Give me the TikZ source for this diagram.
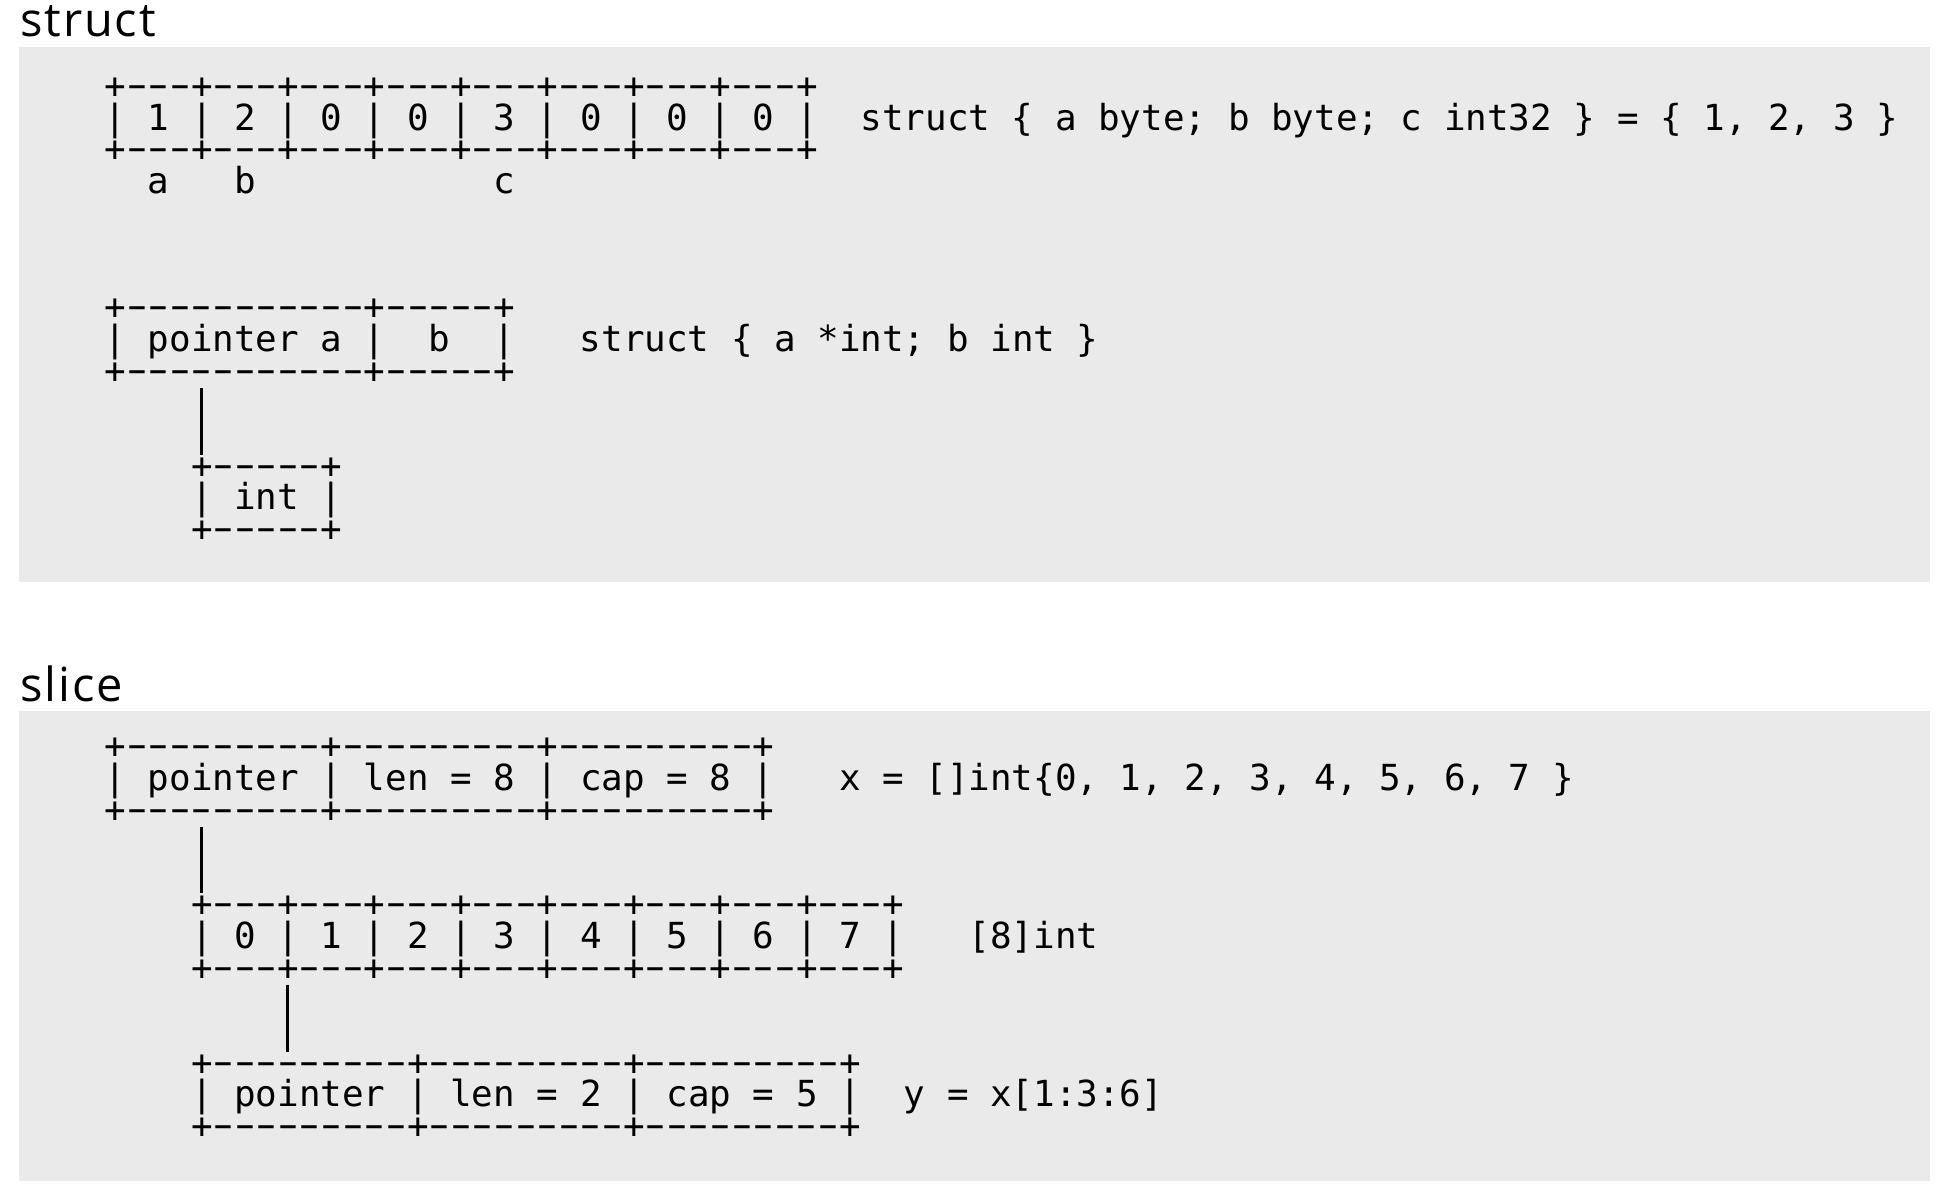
\documentclass[tikz,border=0pt]{standalone}
\usepackage{fontspec}
\usepackage{graphicx}
\newfontfamily\asciifont{DejaVu Sans Mono}[Ligatures=TeXOff]
\newfontfamily\headfont{Open Sans}[LetterSpace=4]
\definecolor{panel}{HTML}{EAEAEA}
\newcommand\dashrun[1]{\foreach\k in {1,...,#1}{\makebox[0.602em]{\scalebox{0.83}[1]{−}}}}

\begin{document}
\begin{tikzpicture}[x=0.5pt,y=-0.5pt]

	\tikzstyle{ascii}=[font=\fontsize{17.95pt}{15.8pt}\asciifont\frenchspacing,
		anchor=base west,inner sep=0pt,
		text height=11.6pt,text depth=2.2pt]
	\tikzstyle{heading}=[font=\fontsize{23.5pt}{28pt}\headfont,
		anchor=base west,inner sep=0pt]
	\tikzstyle{wire}=[line width=1.4pt]

	\useasboundingbox (0,0) rectangle (1946,1188);
	\fill[panel] (19,47) rectangle (1930,582);
	\fill[panel] (19,711) rectangle (1930,1181);

	\node[heading]	(hstruct)	at (20,37)	{struct};
	\node[heading]	(hslice)	at (20,701)	{slice};

	\node[ascii]	(st1top)	at (104.2,98.35)	{+\dashrun3+\dashrun3+\dashrun3+\dashrun3+\dashrun3+\dashrun3+\dashrun3+\dashrun3+};
	\node[ascii]	(st1mid)	at (104.2,130)		{| 1 | 2 | 0 | 0 | 3 | 0 | 0 | 0 |};
	\node[ascii]	(st1bot)	at (104.2,161.65)	{+\dashrun3+\dashrun3+\dashrun3+\dashrun3+\dashrun3+\dashrun3+\dashrun3+\dashrun3+};
	\node[ascii]	(st1lbl)	at (860.2,130)		{struct \{ a byte; b byte; c int32 \} = \{ 1, 2, 3 \}};
	\node[ascii]	(fa)		at (147.4,193.3)	{a};
	\node[ascii]	(fb)		at (233.8,193.3)	{b};
	\node[ascii]	(fc)		at (493.0,193.3)	{c};

	\node[ascii]	(st2top)	at (104.2,319.9)	{+\dashrun{11}+\dashrun5+};
	\node[ascii]	(st2mid)	at (104.2,351.55)	{| pointer a |~~b~~|};
	\node[ascii]	(st2bot)	at (104.2,383.2)	{+\dashrun{11}+\dashrun5+};
	\node[ascii]	(st2lbl)	at (579.4,351.55)	{struct \{ a *int; b int \}};
	\node[ascii]	(inttop)	at (190.6,478.15)	{+\dashrun5+};
	\node[ascii]	(intmid)	at (190.6,509.8)	{| int |};
	\node[ascii]	(intbot)	at (190.6,541.45)	{+\dashrun5+};

	\draw[wire] ([xshift=5.4pt]inttop.north west |- st2bot.south) -- ([xshift=5.4pt]inttop.north west);

	\node[ascii]	(xtop)		at (104.2,758.7)	{+\dashrun9+\dashrun9+\dashrun9+};
	\node[ascii]	(xmid)		at (104.2,790.35)	{| pointer | len = 8 | cap = 8 |};
	\node[ascii]	(xbot)		at (104.2,822)		{+\dashrun9+\dashrun9+\dashrun9+};
	\node[ascii]	(xlbl)		at (838.6,790.35)	{x = []int\{0, 1, 2, 3, 4, 5, 6, 7 \}};
	\node[ascii]	(arrtop)	at (190.6,916.95)	{+\dashrun3+\dashrun3+\dashrun3+\dashrun3+\dashrun3+\dashrun3+\dashrun3+\dashrun3+};
	\node[ascii]	(arrmid)	at (190.6,948.6)	{| 0 | 1 | 2 | 3 | 4 | 5 | 6 | 7 |};
	\node[ascii]	(arrbot)	at (190.6,980.25)	{+\dashrun3+\dashrun3+\dashrun3+\dashrun3+\dashrun3+\dashrun3+\dashrun3+\dashrun3+};
	\node[ascii]	(arrlbl)	at (968.2,948.6)	{[8]int};
	\node[ascii]	(ytop)		at (190.6,1075.2)	{+\dashrun9+\dashrun9+\dashrun9+};
	\node[ascii]	(ymid)		at (190.6,1106.85)	{| pointer | len = 2 | cap = 5 |};
	\node[ascii]	(ybot)		at (190.6,1138.5)	{+\dashrun9+\dashrun9+\dashrun9+};
	\node[ascii]	(ylbl)		at (903.4,1106.85)	{y = x[1:3:6]};

	\draw[wire] ([xshift=5.4pt]arrtop.north west |- xbot.south) -- ([xshift=5.4pt]arrtop.north west);
	\draw[wire] ([xshift=48.6pt]arrbot.south west) -- ([xshift=48.6pt]arrbot.south west |- ytop.north);

\end{tikzpicture}
\end{document}
